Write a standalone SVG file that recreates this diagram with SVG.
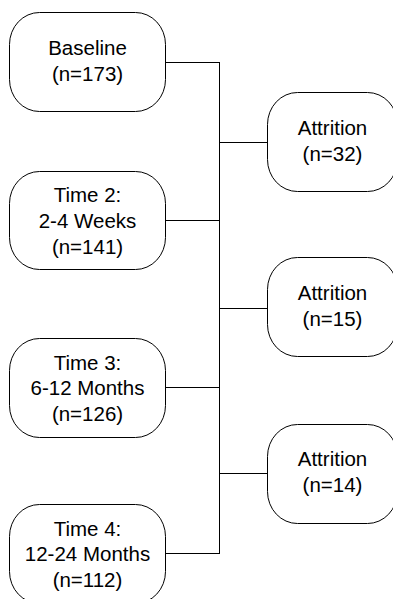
<svg xmlns="http://www.w3.org/2000/svg" width="393" height="599" viewBox="0 0 393 599">
  <style>
    .box { fill: #ffffff; stroke: #000000; stroke-width: 1; }
    .lbl { font-family: "Liberation Sans", Arial, sans-serif; font-size: 20.5px; fill: #000000; text-anchor: middle; }
    .wire { fill: none; stroke: #000000; stroke-width: 1; }
  </style>
  <rect width="393" height="599" fill="#ffffff"/>

  <!-- connectors -->
  <g id="connectors">
    <path class="wire" d="M165 62.5H219.5M165 220.5H219.5M165 387.5H219.5M165 553.5H219.5"/>
    <path class="wire" d="M219.5 62V554"/>
    <path class="wire" d="M219.5 142.5H267M219.5 308.5H267M219.5 473.5H267"/>
  </g>

  <!-- study waves -->
  <g id="baseline">
    <rect class="box" x="9.5" y="12.5" width="156" height="99" rx="30" ry="32"/>
    <text class="lbl" x="87.5" y="54.5">Baseline</text>
    <text class="lbl" x="87.5" y="80.5">(n=173)</text>
  </g>
  <g id="time2">
    <rect class="box" x="9.5" y="171.5" width="156" height="98" rx="30" ry="32"/>
    <text class="lbl" x="87.5" y="202">Time 2:</text>
    <text class="lbl" x="87.5" y="227.5">2-4 Weeks</text>
    <text class="lbl" x="87.5" y="253.5">(n=141)</text>
  </g>
  <g id="time3">
    <rect class="box" x="9.5" y="338.5" width="156" height="99" rx="30" ry="32"/>
    <text class="lbl" x="87.5" y="369.5">Time 3:</text>
    <text class="lbl" x="87.5" y="395">6-12 Months</text>
    <text class="lbl" x="87.5" y="421">(n=126)</text>
  </g>
  <g id="time4">
    <rect class="box" x="9.5" y="504.5" width="156" height="99" rx="30" ry="32"/>
    <text class="lbl" x="87.5" y="535.5">Time 4:</text>
    <text class="lbl" x="87.5" y="561">12-24 Months</text>
    <text class="lbl" x="87.5" y="587">(n=112)</text>
  </g>

  <!-- attrition between waves -->
  <g id="attrition1">
    <rect class="box" x="267.5" y="92.5" width="130" height="99" rx="30" ry="32"/>
    <text class="lbl" x="332.5" y="134.5">Attrition</text>
    <text class="lbl" x="332.5" y="160.5">(n=32)</text>
  </g>
  <g id="attrition2">
    <rect class="box" x="267.5" y="257.5" width="130" height="99" rx="30" ry="32"/>
    <text class="lbl" x="332.5" y="300">Attrition</text>
    <text class="lbl" x="332.5" y="326">(n=15)</text>
  </g>
  <g id="attrition3">
    <rect class="box" x="267.5" y="424.5" width="130" height="99" rx="30" ry="32"/>
    <text class="lbl" x="332.5" y="466">Attrition</text>
    <text class="lbl" x="332.5" y="492">(n=14)</text>
  </g>
</svg>
